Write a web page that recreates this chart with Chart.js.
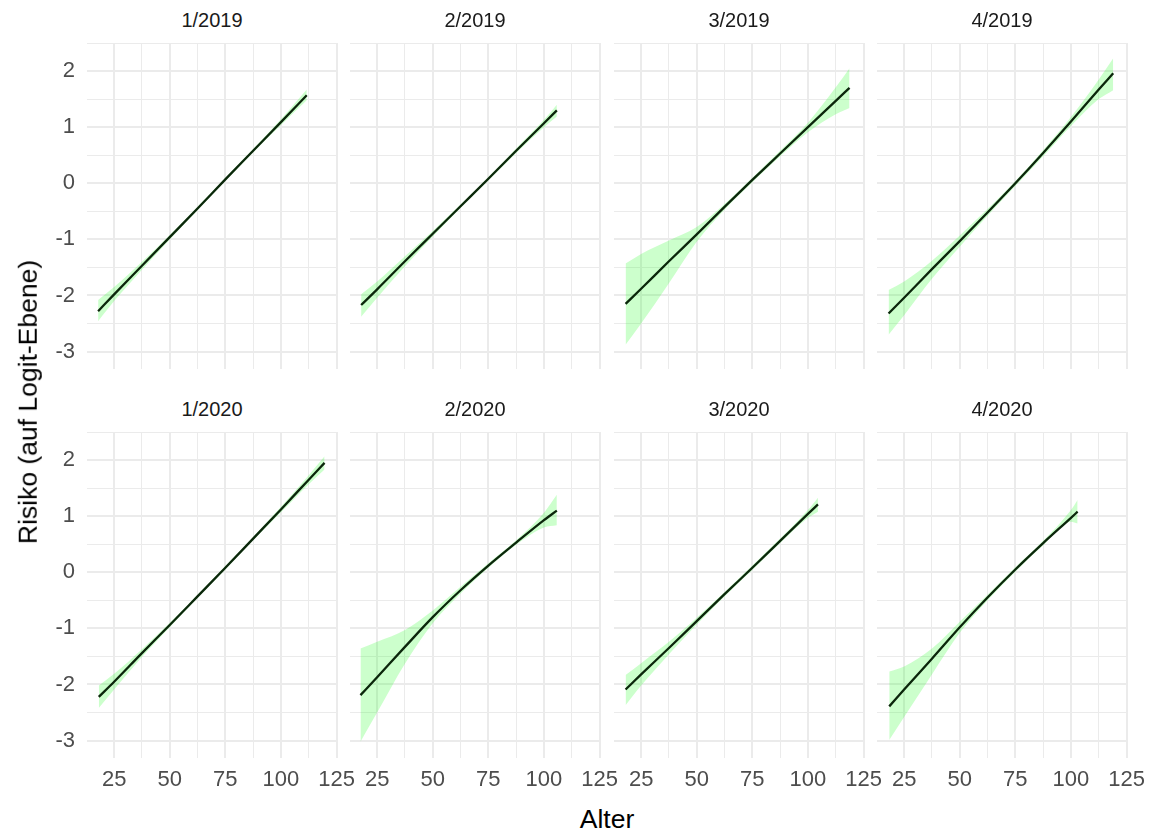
<!DOCTYPE html>
<html>
<head>
<meta charset="utf-8">
<script src="https://cdn.jsdelivr.net/npm/chart.js@4.4.1/dist/chart.umd.min.js"></script>
<style>
    body { margin: 0; background: #fff; }
    #wrap { position: relative; width: 1159px; height: 832px; overflow: hidden; font-family: "Liberation Sans", Arial, sans-serif; }
    #wrap canvas { position: absolute; }
    .lbl { position: absolute; line-height: 1; white-space: nowrap; transform: translate(-50%, -50%); }
</style>
</head>
<body>
<div id="wrap"></div>
<script>
// facet titles
const PANEL_TITLES = ['1/2019', '2/2019', '3/2019', '4/2019', '1/2020', '2/2020', '3/2020', '4/2020'];

// axis breaks
const X_BREAKS = [25, 37.5, 50, 62.5, 75, 87.5, 100, 112.5, 125];
const Y_BREAKS = [-3, -2.5, -2, -1.5, -1, -0.5, 0, 0.5, 1, 1.5, 2, 2.5];

// 1/2019
const age_1_2019 = [17.8, 25, 37.5, 50, 62.5, 75, 87.5, 100, 111.6];
const fit_1_2019 = [-2.28, -1.98, -1.47, -0.96, -0.45, 0.07, 0.58, 1.09, 1.57];
const lo_1_2019  = [-2.46, -2.10, -1.54, -1.00, -0.48, 0.04, 0.55, 1.04, 1.48];
const hi_1_2019  = [-2.08, -1.85, -1.40, -0.92, -0.42, 0.10, 0.61, 1.14, 1.67];

// 2/2019
const age_2_2019 = [17.8, 25, 37.5, 50, 62.5, 75, 87.5, 100, 105.8];
const fit_2_2019 = [-2.17, -1.89, -1.39, -0.90, -0.41, 0.08, 0.58, 1.07, 1.30];
const lo_2_2019  = [-2.38, -2.04, -1.48, -0.95, -0.44, 0.05, 0.54, 1.00, 1.19];
const hi_2_2019  = [-1.98, -1.75, -1.30, -0.85, -0.38, 0.11, 0.62, 1.13, 1.40];

// 3/2019
const age_3_2019 = [18, 25, 37.5, 50, 62.5, 75, 87.5, 100, 112.5, 118.7];
const fit_3_2019 = [-2.15, -1.88, -1.39, -0.91, -0.42, 0.06, 0.53, 1.00, 1.47, 1.70];
const lo_3_2019  = [-2.88, -2.50, -1.78, -1.04, -0.47, 0.02, 0.48, 0.91, 1.23, 1.34];
const hi_3_2019  = [-1.43, -1.26, -1.02, -0.78, -0.37, 0.10, 0.58, 1.08, 1.71, 2.05];

// 4/2019
const age_4_2019 = [18, 25, 37.5, 50, 62.5, 75, 87.5, 100, 112.5, 119];
const fit_4_2019 = [-2.32, -2.04, -1.53, -1.03, -0.52, 0.00, 0.54, 1.10, 1.67, 1.96];
const lo_4_2019  = [-2.70, -2.35, -1.70, -1.13, -0.58, -0.05, 0.48, 1.02, 1.50, 1.66];
const hi_4_2019  = [-1.90, -1.75, -1.38, -0.93, -0.46, 0.04, 0.59, 1.18, 1.85, 2.23];

// 1/2020
const age_1_2020 = [18.1, 25, 37.5, 50, 62.5, 75, 87.5, 100, 112.5, 119.6];
const fit_1_2020 = [-2.22, -1.95, -1.44, -0.94, -0.43, 0.08, 0.60, 1.12, 1.65, 1.95];
const lo_1_2020  = [-2.42, -2.09, -1.51, -0.98, -0.46, 0.05, 0.57, 1.07, 1.57, 1.83];
const hi_1_2020  = [-2.02, -1.81, -1.37, -0.90, -0.40, 0.11, 0.63, 1.17, 1.73, 2.07];

// 2/2020
const age_2_2020 = [17.5, 25, 37.5, 50, 62.5, 75, 87.5, 100, 105.8];
const fit_2_2020 = [-2.19, -1.87, -1.33, -0.80, -0.32, 0.12, 0.53, 0.93, 1.10];
const lo_2_2020  = [-3.02, -2.50, -1.63, -0.91, -0.38, 0.08, 0.49, 0.80, 0.84];
const hi_2_2020  = [-1.36, -1.24, -1.03, -0.68, -0.26, 0.16, 0.57, 1.06, 1.38];

// 3/2020
const age_3_2020 = [18, 25, 37.5, 50, 62.5, 75, 87.5, 100, 104.5];
const fit_3_2020 = [-2.09, -1.82, -1.35, -0.87, -0.39, 0.08, 0.56, 1.04, 1.21];
const lo_3_2020  = [-2.37, -2.02, -1.46, -0.93, -0.43, 0.04, 0.52, 0.97, 1.08];
const hi_3_2020  = [-1.83, -1.62, -1.24, -0.81, -0.35, 0.12, 0.60, 1.11, 1.33];

// 4/2020
const age_4_2020 = [18.3, 25, 37.5, 50, 62.5, 75, 87.5, 100, 103];
const fit_4_2020 = [-2.39, -2.09, -1.54, -0.98, -0.45, 0.05, 0.52, 0.97, 1.08];
const lo_4_2020  = [-2.99, -2.58, -1.82, -1.08, -0.50, 0.01, 0.48, 0.90, 0.87];
const hi_4_2020  = [-1.77, -1.68, -1.36, -0.88, -0.40, 0.09, 0.56, 1.11, 1.29];

const PANELS = [
    [age_1_2019, fit_1_2019, lo_1_2019, hi_1_2019],
    [age_2_2019, fit_2_2019, lo_2_2019, hi_2_2019],
    [age_3_2019, fit_3_2019, lo_3_2019, hi_3_2019],
    [age_4_2019, fit_4_2019, lo_4_2019, hi_4_2019],
    [age_1_2020, fit_1_2020, lo_1_2020, hi_1_2020],
    [age_2_2020, fit_2_2020, lo_2_2020, hi_2_2020],
    [age_3_2020, fit_3_2020, lo_3_2020, hi_3_2020],
    [age_4_2020, fit_4_2020, lo_4_2020, hi_4_2020]
];

// layout of the facet grid (px)
const PANEL_W = 250;
const PANEL_H = 326;
const COL_X = [87, 350, 614, 877];
const ROW_Y = [43, 432];
const EDGE = 24;       // room for tick labels hanging over the panel edge
const PAD_T = 4;
const Y_AXIS_W = 50;
const X_AXIS_H = 44;

const FONT = '"Liberation Sans", Arial, sans-serif';
const GRID = '#EBEBEB';

const wrap = document.querySelector('#wrap');

const addLabel = (text, x, y, size, color, rotate = false) => {
    const d = document.createElement('div');
    d.className = 'lbl';
    d.textContent = text;
    d.style.left = x + 'px';
    d.style.top = y + 'px';
    d.style.fontSize = size + 'px';
    d.style.color = color;
    if(rotate) {
        d.style.transform = 'translate(-50%, -50%) rotate(-90deg)';
    }
    wrap.appendChild(d);
};

const toPoints = (xs, ys) => xs.map((x, i) => ({ x: x, y: ys[i] }));

PANELS.forEach((p, i) => {
    const col = i % 4;
    const row = Math.floor(i / 4);
    const showY = col === 0;
    const showX = row === 1;
    const [age, fit, lo, hi] = p;

    const c = document.createElement('canvas');
    const w = PANEL_W + 2 * EDGE + (showY ? Y_AXIS_W : 0);
    const h = PAD_T + PANEL_H + (showX ? X_AXIS_H : 0);
    c.width = w;
    c.height = h;
    c.style.width = w + 'px';
    c.style.height = h + 'px';
    c.style.left = (COL_X[col] - EDGE - (showY ? Y_AXIS_W : 0)) + 'px';
    c.style.top = (ROW_Y[row] - PAD_T) + 'px';
    wrap.appendChild(c);

    new Chart(c, {
        type: 'line',
        data: {
            datasets: [
                {
                    // fitted line on top
                    data: toPoints(age, fit),
                    borderColor: '#0B260B',
                    borderWidth: 2.3,
                    pointRadius: 0,
                    fill: false,
                    cubicInterpolationMode: 'monotone',
                    order: 0
                },
                {
                    data: toPoints(age, lo),
                    borderWidth: 0,
                    borderColor: 'rgba(0,0,0,0)',
                    pointRadius: 0,
                    fill: false,
                    cubicInterpolationMode: 'monotone',
                    order: 2
                },
                {
                    // ribbon between lower and upper
                    data: toPoints(age, hi),
                    borderWidth: 0,
                    borderColor: 'rgba(0,0,0,0)',
                    backgroundColor: 'rgba(0,255,0,0.2)',
                    pointRadius: 0,
                    fill: '-1',
                    cubicInterpolationMode: 'monotone',
                    order: 1
                }
            ]
        },
        options: {
            responsive: false,
            animation: false,
            devicePixelRatio: 1,
            layout: { padding: { left: EDGE, right: EDGE, top: PAD_T, bottom: 0 } },
            plugins: {
                legend: { display: false },
                tooltip: { enabled: false }
            },
            scales: {
                x: {
                    type: 'linear',
                    min: 12.8,
                    max: 125.2,
                    border: { display: false },
                    grid: {
                        color: GRID,
                        drawTicks: false,
                        lineWidth: ctx => (ctx.tick && ctx.tick.value % 25 === 0) ? 2 : 1
                    },
                    ticks: {
                        display: showX,
                        autoSkip: false,
                        maxRotation: 0,
                        minRotation: 0,
                        padding: 9,
                        color: '#4D4D4D',
                        font: { family: FONT, size: 22 },
                        callback: v => v % 25 === 0 ? String(v) : ''
                    },
                    afterBuildTicks: s => { s.ticks = X_BREAKS.map(v => ({ value: v })); },
                    afterFit: s => {
                        s.height = showX ? X_AXIS_H : 0;
                        s.paddingLeft = 0;
                        s.paddingRight = 0;
                    }
                },
                y: {
                    type: 'linear',
                    min: -3.31,
                    max: 2.5,
                    border: { display: false },
                    grid: {
                        color: GRID,
                        drawTicks: false,
                        lineWidth: ctx => (ctx.tick && Number.isInteger(ctx.tick.value)) ? 2 : 1
                    },
                    ticks: {
                        display: showY,
                        autoSkip: false,
                        padding: 12,
                        color: '#4D4D4D',
                        font: { family: FONT, size: 22 },
                        callback: v => Number.isInteger(v) ? String(v) : ''
                    },
                    afterBuildTicks: s => { s.ticks = Y_BREAKS.map(v => ({ value: v })); },
                    afterFit: s => {
                        s.width = showY ? Y_AXIS_W : 0;
                        s.paddingTop = 0;
                        s.paddingBottom = 0;
                    }
                }
            }
        }
    });

    // facet strip text
    addLabel(PANEL_TITLES[i], COL_X[col] + PANEL_W / 2, ROW_Y[row] - 23, 20, '#1A1A1A');
});

// axis titles
addLabel('Alter', 607, 819, 26.5, '#000');
addLabel('Risiko (auf Logit-Ebene)', 28, 402, 26.5, '#000', true);
</script>
</body>
</html>
